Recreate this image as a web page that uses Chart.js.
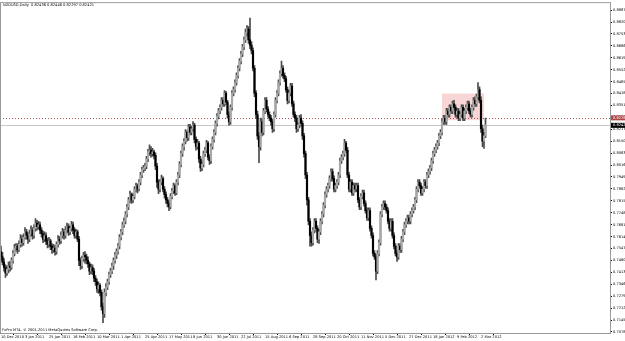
<!DOCTYPE html>
<html>
<head>
<meta charset="utf-8">
<script src="https://cdn.jsdelivr.net/npm/chart.js@4.4.1/dist/chart.umd.min.js"></script>
<style>
  html, body { margin: 0; padding: 0; background: #fff; }
  #wrap { width: 625px; height: 341px; }
</style>
</head>
<body>
<div id="wrap"><canvas id="chart" width="625" height="341"></canvas></div>
<script>
// NZDUSD daily, 10 Dec 2010 - 7 Mar 2012 (one value per trading day)
const chartTitle = 'NZDUSD,Daily  0.82436 0.82446 0.82297 0.82421';
const copyright = 'FxPro MT4, \u00a9 2001-2011 MetaQuotes Software Corp.';

const dateTicks = [0, 16, 32, 48, 64, 80, 96, 112, 128, 144, 160, 176, 192, 208, 224, 240, 256, 272, 288, 304, 320];
const dateLabels = ['10 Dec 2010', '3 Jan 2011', '25 Jan 2011', '16 Feb 2011', '10 Mar 2011', '1 Apr 2011',
    '25 Apr 2011', '17 May 2011', '8 Jun 2011', '30 Jun 2011', '22 Jul 2011', '15 Aug 2011', '6 Sep 2011',
    '28 Sep 2011', '20 Oct 2011', '11 Nov 2011', '5 Dec 2011', '27 Dec 2011', '18 Jan 2012', '9 Feb 2012', '2 Mar 2012'];

const priceTicks = [0.88870, 0.88200, 0.87530, 0.86860, 0.86190, 0.85520, 0.84850, 0.84180, 0.83510, 0.82840,
    0.82170, 0.81500, 0.80830, 0.80160, 0.79490, 0.78820, 0.78150, 0.77480, 0.76810, 0.76140,
    0.75470, 0.74800, 0.74130, 0.73460, 0.72790, 0.72120, 0.71450, 0.70780];

const opens = [0.7530,
    0.7500, 0.7470, 0.7440, 0.7410, 0.7430, 0.7450, 0.7440, 0.7480, 0.7520, 0.7550,
    0.7560, 0.7540, 0.7570, 0.7600, 0.7580, 0.7610, 0.7640, 0.7620, 0.7600, 0.7630,
    0.7650, 0.7620, 0.7660, 0.7690, 0.7670, 0.7680, 0.7650, 0.7630, 0.7600, 0.7620,
    0.7590, 0.7570, 0.7590, 0.7560, 0.7540, 0.7550, 0.7530, 0.7570, 0.7600, 0.7590,
    0.7620, 0.7640, 0.7620, 0.7650, 0.7670, 0.7640, 0.7660, 0.7680, 0.7650, 0.7620,
    0.7640, 0.7600, 0.7480, 0.7450, 0.7490, 0.7510, 0.7500, 0.7480, 0.7460, 0.7420,
    0.7440, 0.7420, 0.7380, 0.7360, 0.7320, 0.7340, 0.7300, 0.7220, 0.7180, 0.7300,
    0.7330, 0.7360, 0.7400, 0.7420, 0.7450, 0.7480, 0.7510, 0.7530, 0.7560, 0.7610,
    0.7640, 0.7680, 0.7700, 0.7740, 0.7780, 0.7820, 0.7850, 0.7820, 0.7840, 0.7880,
    0.7900, 0.7880, 0.7920, 0.7960, 0.7990, 0.8000, 0.8010, 0.8050, 0.8090, 0.8100,
    0.8080, 0.8090, 0.8070, 0.8010, 0.7920, 0.7880, 0.7920, 0.7940, 0.7880, 0.7850,
    0.7820, 0.7800, 0.7780, 0.7840, 0.7870, 0.7900, 0.7860, 0.7920, 0.7960, 0.8020,
    0.8080, 0.8120, 0.8150, 0.8200, 0.8170, 0.8230, 0.8200, 0.8220, 0.8240, 0.8160,
    0.8120, 0.8140, 0.8050, 0.8000, 0.8020, 0.8080, 0.8100, 0.8140, 0.8060, 0.8040,
    0.8120, 0.8160, 0.8200, 0.8250, 0.8290, 0.8320, 0.8340, 0.8380, 0.8360, 0.8420,
    0.8370, 0.8300, 0.8260, 0.8340, 0.8420, 0.8440, 0.8480, 0.8520, 0.8560, 0.8600,
    0.8640, 0.8680, 0.8720, 0.8760, 0.8780, 0.8720, 0.8690, 0.8660, 0.8560, 0.8420,
    0.8300, 0.8180, 0.8120, 0.8260, 0.8200, 0.8320, 0.8380, 0.8330, 0.8300, 0.8280,
    0.8260, 0.8220, 0.8300, 0.8380, 0.8420, 0.8480, 0.8530, 0.8560, 0.8520, 0.8500,
    0.8440, 0.8380, 0.8420, 0.8460, 0.8360, 0.8300, 0.8280, 0.8220, 0.8240, 0.8280,
    0.8250, 0.8180, 0.8080, 0.7960, 0.7820, 0.7700, 0.7620, 0.7580, 0.7650, 0.7700,
    0.7660, 0.7600, 0.7640, 0.7700, 0.7740, 0.7790, 0.7850, 0.7880, 0.7900, 0.7940,
    0.7980, 0.7940, 0.7880, 0.7900, 0.7920, 0.7960, 0.8040, 0.8060, 0.8080, 0.8140,
    0.8100, 0.7960, 0.7880, 0.7920, 0.7860, 0.7900, 0.7880, 0.7900, 0.7820, 0.7780,
    0.7840, 0.7860, 0.7800, 0.7760, 0.7720, 0.7760, 0.7660, 0.7620, 0.7520, 0.7500,
    0.7420, 0.7520, 0.7580, 0.7740, 0.7780, 0.7800, 0.7780, 0.7760, 0.7700, 0.7660,
    0.7700, 0.7620, 0.7560, 0.7520, 0.7500, 0.7560, 0.7540, 0.7600, 0.7640, 0.7680,
    0.7700, 0.7720, 0.7700, 0.7740, 0.7760, 0.7780, 0.7820, 0.7880, 0.7920, 0.7900,
    0.7860, 0.7880, 0.7920, 0.7900, 0.7960, 0.7980, 0.8000, 0.8040, 0.8080, 0.8100,
    0.8120, 0.8140, 0.8180, 0.8200, 0.8260, 0.8280, 0.8260, 0.8320, 0.8300, 0.8340,
    0.8320, 0.8360, 0.8340, 0.8300, 0.8320, 0.8280, 0.8300, 0.8340, 0.8280, 0.8320,
    0.8340, 0.8360, 0.8320, 0.8300, 0.8340, 0.8380, 0.8360, 0.8400, 0.8440, 0.8380,
    0.8220, 0.8150, 0.8180];

const highs = [0.7560,
    0.7525, 0.7490, 0.7455, 0.7450, 0.7470, 0.7475, 0.7495, 0.7535, 0.7570, 0.7575,
    0.7575, 0.7590, 0.7625, 0.7620, 0.7630, 0.7665, 0.7655, 0.7635, 0.7650, 0.7675,
    0.7665, 0.7680, 0.7715, 0.7705, 0.7700, 0.7695, 0.7665, 0.7645, 0.7640, 0.7635,
    0.7605, 0.7610, 0.7600, 0.7575, 0.7570, 0.7565, 0.7585, 0.7620, 0.7615, 0.7640,
    0.7660, 0.7655, 0.7670, 0.7690, 0.7685, 0.7675, 0.7700, 0.7695, 0.7665, 0.7655,
    0.7650, 0.7615, 0.7495, 0.7505, 0.7525, 0.7530, 0.7515, 0.7500, 0.7470, 0.7460,
    0.7455, 0.7435, 0.7395, 0.7375, 0.7360, 0.7350, 0.7315, 0.7240, 0.7320, 0.7350,
    0.7375, 0.7415, 0.7435, 0.7465, 0.7495, 0.7525, 0.7545, 0.7575, 0.7625, 0.7655,
    0.7695, 0.7720, 0.7755, 0.7795, 0.7835, 0.7870, 0.7860, 0.7855, 0.7895, 0.7915,
    0.7910, 0.7935, 0.7975, 0.8005, 0.8015, 0.8025, 0.8065, 0.8105, 0.8130, 0.8120,
    0.8110, 0.8100, 0.8085, 0.8025, 0.7935, 0.7935, 0.7960, 0.7950, 0.7895, 0.7865,
    0.7835, 0.7815, 0.7855, 0.7885, 0.7915, 0.7910, 0.7935, 0.7975, 0.8035, 0.8095,
    0.8135, 0.8165, 0.8215, 0.8210, 0.8245, 0.8245, 0.8235, 0.8260, 0.8250, 0.8175,
    0.8160, 0.8150, 0.8065, 0.8040, 0.8095, 0.8115, 0.8155, 0.8150, 0.8075, 0.8135,
    0.8175, 0.8215, 0.8265, 0.8305, 0.8335, 0.8355, 0.8395, 0.8395, 0.8435, 0.8430,
    0.8380, 0.8315, 0.8355, 0.8435, 0.8455, 0.8495, 0.8535, 0.8575, 0.8615, 0.8655,
    0.8695, 0.8735, 0.8780, 0.8800, 0.8795, 0.8842, 0.8710, 0.8675, 0.8575, 0.8435,
    0.8320, 0.8200, 0.8280, 0.8275, 0.8335, 0.8395, 0.8395, 0.8345, 0.8315, 0.8295,
    0.8275, 0.8315, 0.8395, 0.8435, 0.8495, 0.8545, 0.8600, 0.8575, 0.8535, 0.8515,
    0.8455, 0.8435, 0.8475, 0.8475, 0.8375, 0.8315, 0.8295, 0.8255, 0.8295, 0.8300,
    0.8265, 0.8195, 0.8095, 0.7975, 0.7835, 0.7715, 0.7640, 0.7665, 0.7715, 0.7715,
    0.7675, 0.7655, 0.7715, 0.7755, 0.7805, 0.7865, 0.7895, 0.7915, 0.7955, 0.7995,
    0.7995, 0.7955, 0.7915, 0.7935, 0.7975, 0.8055, 0.8075, 0.8095, 0.8160, 0.8150,
    0.8115, 0.7975, 0.7935, 0.7935, 0.7915, 0.7915, 0.7915, 0.7915, 0.7835, 0.7855,
    0.7875, 0.7875, 0.7815, 0.7775, 0.7775, 0.7775, 0.7675, 0.7635, 0.7535, 0.7515,
    0.7535, 0.7595, 0.7755, 0.7795, 0.7815, 0.7815, 0.7795, 0.7775, 0.7715, 0.7715,
    0.7715, 0.7635, 0.7575, 0.7535, 0.7575, 0.7575, 0.7615, 0.7655, 0.7695, 0.7715,
    0.7735, 0.7735, 0.7755, 0.7775, 0.7795, 0.7835, 0.7895, 0.7935, 0.7935, 0.7915,
    0.7895, 0.7935, 0.7935, 0.7975, 0.7995, 0.8015, 0.8055, 0.8095, 0.8115, 0.8135,
    0.8155, 0.8195, 0.8215, 0.8275, 0.8295, 0.8295, 0.8335, 0.8335, 0.8355, 0.8355,
    0.8375, 0.8380, 0.8355, 0.8335, 0.8335, 0.8315, 0.8355, 0.8355, 0.8335, 0.8355,
    0.8375, 0.8375, 0.8335, 0.8355, 0.8395, 0.8400, 0.8415, 0.8480, 0.8455, 0.8400,
    0.8240, 0.8200, 0.8280];

const lows = [0.7480,
    0.7455, 0.7420, 0.7385, 0.7395, 0.7410, 0.7420, 0.7430, 0.7465, 0.7505, 0.7530,
    0.7520, 0.7530, 0.7555, 0.7560, 0.7565, 0.7600, 0.7600, 0.7575, 0.7585, 0.7615,
    0.7600, 0.7605, 0.7645, 0.7650, 0.7655, 0.7630, 0.7610, 0.7580, 0.7585, 0.7570,
    0.7550, 0.7555, 0.7540, 0.7520, 0.7525, 0.7510, 0.7515, 0.7555, 0.7570, 0.7575,
    0.7605, 0.7600, 0.7605, 0.7635, 0.7620, 0.7625, 0.7645, 0.7630, 0.7605, 0.7605,
    0.7585, 0.7450, 0.7430, 0.7435, 0.7475, 0.7465, 0.7460, 0.7440, 0.7400, 0.7405,
    0.7400, 0.7360, 0.7340, 0.7300, 0.7295, 0.7280, 0.7200, 0.7130, 0.7160, 0.7280,
    0.7315, 0.7345, 0.7385, 0.7405, 0.7430, 0.7465, 0.7490, 0.7515, 0.7545, 0.7595,
    0.7625, 0.7665, 0.7685, 0.7725, 0.7765, 0.7805, 0.7800, 0.7805, 0.7825, 0.7865,
    0.7860, 0.7870, 0.7905, 0.7945, 0.7975, 0.7985, 0.7995, 0.8035, 0.8070, 0.8060,
    0.8065, 0.8050, 0.7990, 0.7890, 0.7855, 0.7865, 0.7905, 0.7865, 0.7830, 0.7800,
    0.7780, 0.7760, 0.7770, 0.7825, 0.7855, 0.7845, 0.7850, 0.7905, 0.7945, 0.8005,
    0.8065, 0.8100, 0.8135, 0.8150, 0.8155, 0.8185, 0.8185, 0.8205, 0.8140, 0.8100,
    0.8105, 0.8030, 0.7980, 0.7985, 0.8005, 0.8065, 0.8085, 0.8045, 0.8020, 0.8025,
    0.8105, 0.8145, 0.8185, 0.8235, 0.8275, 0.8305, 0.8325, 0.8345, 0.8345, 0.8355,
    0.8280, 0.8240, 0.8245, 0.8325, 0.8405, 0.8425, 0.8465, 0.8505, 0.8545, 0.8585,
    0.8625, 0.8665, 0.8705, 0.8740, 0.8700, 0.8670, 0.8640, 0.8545, 0.8400, 0.8280,
    0.8160, 0.8030, 0.8100, 0.8180, 0.8185, 0.8305, 0.8315, 0.8285, 0.8265, 0.8240,
    0.8200, 0.8205, 0.8285, 0.8365, 0.8405, 0.8465, 0.8515, 0.8505, 0.8485, 0.8425,
    0.8360, 0.8365, 0.8405, 0.8345, 0.8285, 0.8260, 0.8200, 0.8205, 0.8225, 0.8235,
    0.8160, 0.8060, 0.7940, 0.7790, 0.7680, 0.7560, 0.7560, 0.7565, 0.7635, 0.7645,
    0.7580, 0.7575, 0.7625, 0.7685, 0.7725, 0.7775, 0.7835, 0.7865, 0.7885, 0.7925,
    0.7925, 0.7865, 0.7865, 0.7885, 0.7905, 0.7945, 0.8025, 0.8045, 0.8065, 0.8085,
    0.7945, 0.7865, 0.7865, 0.7845, 0.7845, 0.7865, 0.7865, 0.7805, 0.7765, 0.7765,
    0.7825, 0.7785, 0.7745, 0.7705, 0.7705, 0.7645, 0.7605, 0.7505, 0.7485, 0.7370,
    0.7405, 0.7505, 0.7565, 0.7725, 0.7765, 0.7765, 0.7745, 0.7685, 0.7645, 0.7645,
    0.7605, 0.7545, 0.7505, 0.7475, 0.7485, 0.7525, 0.7525, 0.7585, 0.7625, 0.7665,
    0.7685, 0.7685, 0.7685, 0.7725, 0.7745, 0.7765, 0.7805, 0.7865, 0.7885, 0.7845,
    0.7845, 0.7865, 0.7885, 0.7885, 0.7945, 0.7965, 0.7985, 0.8025, 0.8065, 0.8085,
    0.8105, 0.8125, 0.8165, 0.8185, 0.8245, 0.8245, 0.8245, 0.8285, 0.8285, 0.8305,
    0.8305, 0.8325, 0.8285, 0.8285, 0.8265, 0.8265, 0.8285, 0.8265, 0.8265, 0.8305,
    0.8325, 0.8305, 0.8285, 0.8285, 0.8325, 0.8345, 0.8345, 0.8385, 0.8365, 0.8200,
    0.8120, 0.8110, 0.8170];

const closes = [0.7500,
    0.7470, 0.7440, 0.7410, 0.7430, 0.7450, 0.7440, 0.7480, 0.7520, 0.7550, 0.7560,
    0.7540, 0.7570, 0.7600, 0.7580, 0.7610, 0.7640, 0.7620, 0.7600, 0.7630, 0.7650,
    0.7620, 0.7660, 0.7690, 0.7670, 0.7680, 0.7650, 0.7630, 0.7600, 0.7620, 0.7590,
    0.7570, 0.7590, 0.7560, 0.7540, 0.7550, 0.7530, 0.7570, 0.7600, 0.7590, 0.7620,
    0.7640, 0.7620, 0.7650, 0.7670, 0.7640, 0.7660, 0.7680, 0.7650, 0.7620, 0.7640,
    0.7600, 0.7480, 0.7450, 0.7490, 0.7510, 0.7500, 0.7480, 0.7460, 0.7420, 0.7440,
    0.7420, 0.7380, 0.7360, 0.7320, 0.7340, 0.7300, 0.7220, 0.7180, 0.7300, 0.7330,
    0.7360, 0.7400, 0.7420, 0.7450, 0.7480, 0.7510, 0.7530, 0.7560, 0.7610, 0.7640,
    0.7680, 0.7700, 0.7740, 0.7780, 0.7820, 0.7850, 0.7820, 0.7840, 0.7880, 0.7900,
    0.7880, 0.7920, 0.7960, 0.7990, 0.8000, 0.8010, 0.8050, 0.8090, 0.8100, 0.8080,
    0.8090, 0.8070, 0.8010, 0.7920, 0.7880, 0.7920, 0.7940, 0.7880, 0.7850, 0.7820,
    0.7800, 0.7780, 0.7840, 0.7870, 0.7900, 0.7860, 0.7920, 0.7960, 0.8020, 0.8080,
    0.8120, 0.8150, 0.8200, 0.8170, 0.8230, 0.8200, 0.8220, 0.8240, 0.8160, 0.8120,
    0.8140, 0.8050, 0.8000, 0.8020, 0.8080, 0.8100, 0.8140, 0.8060, 0.8040, 0.8120,
    0.8160, 0.8200, 0.8250, 0.8290, 0.8320, 0.8340, 0.8380, 0.8360, 0.8420, 0.8370,
    0.8300, 0.8260, 0.8340, 0.8420, 0.8440, 0.8480, 0.8520, 0.8560, 0.8600, 0.8640,
    0.8680, 0.8720, 0.8760, 0.8780, 0.8720, 0.8690, 0.8660, 0.8560, 0.8420, 0.8300,
    0.8180, 0.8120, 0.8260, 0.8200, 0.8320, 0.8380, 0.8330, 0.8300, 0.8280, 0.8260,
    0.8220, 0.8300, 0.8380, 0.8420, 0.8480, 0.8530, 0.8560, 0.8520, 0.8500, 0.8440,
    0.8380, 0.8420, 0.8460, 0.8360, 0.8300, 0.8280, 0.8220, 0.8240, 0.8280, 0.8250,
    0.8180, 0.8080, 0.7960, 0.7820, 0.7700, 0.7620, 0.7580, 0.7650, 0.7700, 0.7660,
    0.7600, 0.7640, 0.7700, 0.7740, 0.7790, 0.7850, 0.7880, 0.7900, 0.7940, 0.7980,
    0.7940, 0.7880, 0.7900, 0.7920, 0.7960, 0.8040, 0.8060, 0.8080, 0.8140, 0.8100,
    0.7960, 0.7880, 0.7920, 0.7860, 0.7900, 0.7880, 0.7900, 0.7820, 0.7780, 0.7840,
    0.7860, 0.7800, 0.7760, 0.7720, 0.7760, 0.7660, 0.7620, 0.7520, 0.7500, 0.7420,
    0.7520, 0.7580, 0.7740, 0.7780, 0.7800, 0.7780, 0.7760, 0.7700, 0.7660, 0.7700,
    0.7620, 0.7560, 0.7520, 0.7500, 0.7560, 0.7540, 0.7600, 0.7640, 0.7680, 0.7700,
    0.7720, 0.7700, 0.7740, 0.7760, 0.7780, 0.7820, 0.7880, 0.7920, 0.7900, 0.7860,
    0.7880, 0.7920, 0.7900, 0.7960, 0.7980, 0.8000, 0.8040, 0.8080, 0.8100, 0.8120,
    0.8140, 0.8180, 0.8200, 0.8260, 0.8280, 0.8260, 0.8320, 0.8300, 0.8340, 0.8320,
    0.8360, 0.8340, 0.8300, 0.8320, 0.8280, 0.8300, 0.8340, 0.8280, 0.8320, 0.8340,
    0.8360, 0.8320, 0.8300, 0.8340, 0.8380, 0.8360, 0.8400, 0.8440, 0.8380, 0.8220,
    0.8150, 0.8180, 0.8242];

// horizontal line, bid and the marked range
const lineLevel = 0.82784;
const bidPrice = 0.82421;
const zoneBars = [294, 322];
const zonePrices = [0.8268, 0.8418];

const tinyFont = { family: 'DejaVu Sans', size: 3.6 };

const mt4Decor = {
    id: 'mt4Decor',
    beforeDatasetsDraw(chart) {
        const { ctx, chartArea: a, scales: { x, y } } = chart;
        ctx.save();
        // zona marcada
        ctx.fillStyle = '#f9d6d6';
        const x0 = x.getPixelForValue(zoneBars[0]);
        const x1 = x.getPixelForValue(zoneBars[1]);
        const y0 = y.getPixelForValue(zonePrices[1]);
        const y1 = y.getPixelForValue(zonePrices[0]);
        ctx.fillRect(x0, y0, x1 - x0, y1 - y0);
        // linea horizontal punteada
        const ly = Math.round(y.getPixelForValue(lineLevel)) + 0.5;
        ctx.strokeStyle = '#b05050';
        ctx.lineWidth = 1;
        ctx.setLineDash([1, 2]);
        ctx.beginPath();
        ctx.moveTo(a.left, ly);
        ctx.lineTo(a.right, ly);
        ctx.stroke();
        // linea bid
        const by = Math.round(y.getPixelForValue(bidPrice)) + 0.5;
        ctx.setLineDash([]);
        ctx.strokeStyle = '#c8c8c8';
        ctx.beginPath();
        ctx.moveTo(a.left, by);
        ctx.lineTo(a.right, by);
        ctx.stroke();
        ctx.restore();
    },
    afterDraw(chart) {
        const { ctx, chartArea: a, scales: { y } } = chart;
        ctx.save();
        ctx.strokeStyle = '#9a9a9a';
        ctx.lineWidth = 1;
        ctx.strokeRect(a.left + 0.5, a.top - 0.5, a.right - a.left, a.bottom - a.top + 1);
        ctx.font = tinyFont.size + 'px ' + tinyFont.family;
        ctx.textBaseline = 'middle';
        ctx.fillStyle = '#000';
        ctx.fillText(chartTitle, 3, a.top + 2);
        ctx.fillText(copyright, 2, a.bottom - 3);
        // etiquetas de precio en el eje
        const ly = y.getPixelForValue(lineLevel);
        ctx.fillStyle = '#b04848';
        ctx.fillRect(a.right + 1, ly - 3, 15, 5);
        ctx.fillStyle = '#fff';
        ctx.fillText(lineLevel.toFixed(5), a.right + 3, ly - 0.5);
        const by = y.getPixelForValue(bidPrice);
        ctx.fillStyle = '#000';
        ctx.fillRect(a.right + 1, by - 2, 15, 5);
        ctx.fillStyle = '#fff';
        ctx.fillText(bidPrice.toFixed(5), a.right + 3, by + 0.5);
        ctx.restore();
    }
};

const wickData = highs.map((h, i) => ({ x: i, y: [lows[i], h] }));
const bodyData = opens.map((o, i) => ({ x: i, y: [o, closes[i]] }));
const bodyColors = opens.map((o, i) => closes[i] >= o ? '#a8a8a8' : '#000');

new Chart(document.getElementById('chart'), {
    type: 'bar',
    data: {
        datasets: [{
            data: wickData,
            backgroundColor: '#4a4a4a',
            barThickness: 1,
            grouped: false,
            order: 2
        }, {
            data: bodyData,
            backgroundColor: bodyColors,
            barThickness: 1.5,
            minBarLength: 1,
            grouped: false,
            order: 1
        }]
    },
    options: {
        responsive: false,
        animation: false,
        devicePixelRatio: 1,
        layout: { padding: { top: 3, left: 0, right: 0, bottom: 0 } },
        plugins: {
            legend: { display: false },
            tooltip: { enabled: false }
        },
        scales: {
            x: {
                type: 'linear',
                offset: false,
                min: -0.667,
                max: 406,
                grid: { drawOnChartArea: false, drawTicks: true, tickLength: 2, color: '#000' },
                border: { display: true, color: '#000' },
                ticks: {
                    font: tinyFont,
                    color: '#000',
                    padding: 0,
                    align: 'start',
                    maxRotation: 0,
                    autoSkip: false,
                    callback: (v) => dateLabels[dateTicks.indexOf(v)]
                },
                afterBuildTicks: (scale) => { scale.ticks = dateTicks.map(v => ({ value: v })); },
                afterFit: (scale) => { scale.height = 8; }
            },
            y: {
                position: 'right',
                min: 0.7072,
                max: 0.8926,
                grid: { drawOnChartArea: false, drawTicks: true, tickLength: 2, color: '#000' },
                border: { display: true, color: '#000' },
                ticks: {
                    font: tinyFont,
                    color: '#000',
                    padding: 1,
                    callback: (v) => v.toFixed(5)
                },
                afterBuildTicks: (scale) => { scale.ticks = priceTicks.map(v => ({ value: v })); },
                afterFit: (scale) => { scale.width = 15; }
            }
        }
    },
    plugins: [mt4Decor]
});
</script>
</body>
</html>
